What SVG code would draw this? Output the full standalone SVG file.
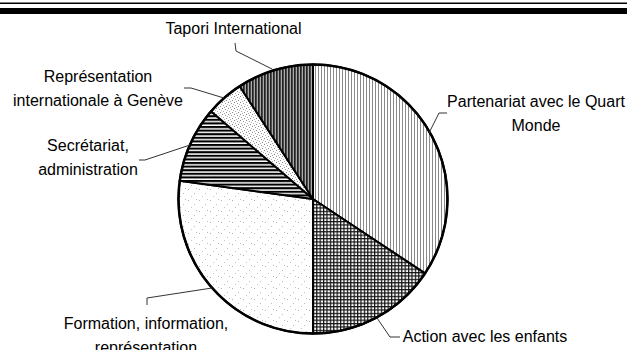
<svg xmlns="http://www.w3.org/2000/svg" width="627" height="350" viewBox="0 0 627 350">
<style>
text{font-family:"Liberation Sans",Arial,sans-serif;font-size:16px;fill:#000;text-anchor:middle}
.slice{stroke:#000;stroke-width:2;stroke-linejoin:round}
.lead{fill:none;stroke:#333;stroke-width:1}
</style>
<defs>
<pattern id="pVert" width="3" height="3" patternUnits="userSpaceOnUse">
<rect width="3" height="3" fill="#fff"/><rect x="0" width="1" height="3" fill="#8a8a8a"/>
</pattern>
<pattern id="pGrid" width="3.4" height="3.4" patternUnits="userSpaceOnUse">
<rect width="3.4" height="3.4" fill="#fff"/><rect width="3.4" height="1.2" fill="#111"/><rect width="1.2" height="3.4" fill="#111"/>
</pattern>
<pattern id="pSparse" width="11" height="11" patternUnits="userSpaceOnUse">
<rect width="11" height="11" fill="#fff"/><rect x="1" y="2" width="1" height="1" fill="#b0b0b0"/><rect x="7" y="6" width="1" height="1" fill="#bbb"/><rect x="4" y="9" width="1" height="1" fill="#c4c4c4"/><rect x="9" y="1" width="1" height="1" fill="#bbb"/>
</pattern>
<pattern id="pHoriz" width="4" height="3.6" patternUnits="userSpaceOnUse">
<rect width="4" height="3.6" fill="#fff"/><rect width="4" height="2.1" fill="#000"/>
</pattern>
<pattern id="pDense" width="6" height="6" patternUnits="userSpaceOnUse">
<rect width="6" height="6" fill="#fff"/><rect x="0" y="0" width="1" height="1" fill="#888"/><rect x="3" y="1" width="1" height="1" fill="#999"/><rect x="1" y="3" width="1" height="1" fill="#aaa"/><rect x="4" y="4" width="1" height="1" fill="#888"/><rect x="5" y="2" width="1" height="1" fill="#bbb"/><rect x="2" y="5" width="1" height="1" fill="#aaa"/>
</pattern>
<pattern id="pDark" width="3" height="3" patternUnits="userSpaceOnUse">
<rect width="3" height="3" fill="#aaa"/><rect x="0" width="1.7" height="3" fill="#222"/>
</pattern>
</defs>
<rect x="0" y="2.5" width="627" height="1.5" fill="#000"/>
<rect x="0" y="8" width="627" height="6" fill="#000"/>
<g id="pie">
<g id="partenariat"><path class="slice" fill="url(#pVert)" d="M313,199 L313,64.5 A134.5,134.5 0 0 1 425,273.4 Z"/></g>
<g id="action"><path class="slice" fill="url(#pGrid)" d="M313,199 L425,273.4 A134.5,134.5 0 0 1 313,333.5 Z"/></g>
<g id="formation"><path class="slice" fill="url(#pSparse)" d="M313,199 L313,333.5 A134.5,134.5 0 0 1 179.7,180.7 Z"/></g>
<g id="secretariat"><path class="slice" fill="url(#pHoriz)" d="M313,199 L179.7,180.7 A134.5,134.5 0 0 1 211,111.3 Z"/></g>
<g id="geneve"><path class="slice" fill="url(#pDense)" d="M313,199 L211,111.3 A134.5,134.5 0 0 1 239.7,86.2 Z"/></g>
<g id="tapori"><path class="slice" fill="url(#pDark)" d="M313,199 L239.7,86.2 A134.5,134.5 0 0 1 313,64.5 Z"/></g>
<circle cx="313" cy="199" r="134.5" fill="none" stroke="#000" stroke-width="2.5"/>
</g>
<g id="connectors">
<polyline class="lead" points="235,43 236,51 272,69"/>
<polyline class="lead" points="447,113 439,113 429,133"/>
<polyline class="lead" points="184,88 191,88 224,98"/>
<polyline class="lead" points="139,160 145,160 190,145"/>
<polyline class="lead" points="147,305 147,298 212,288"/>
<polyline class="lead" points="377,318 390,337 400,337"/>
</g>
<g id="labels">
<text x="233.5" y="34">Tapori International</text>
<text x="536" y="107">Partenariat avec le Quart</text>
<text x="536" y="131">Monde</text>
<text x="98" y="82">Représentation</text>
<text x="98" y="106">internationale à Genève</text>
<text x="88" y="151">Secrétariat,</text>
<text x="88" y="175">administration</text>
<text x="146" y="329">Formation, information,</text>
<text x="146" y="353">représentation</text>
<text x="485" y="342">Action avec les enfants</text>
</g>
</svg>
